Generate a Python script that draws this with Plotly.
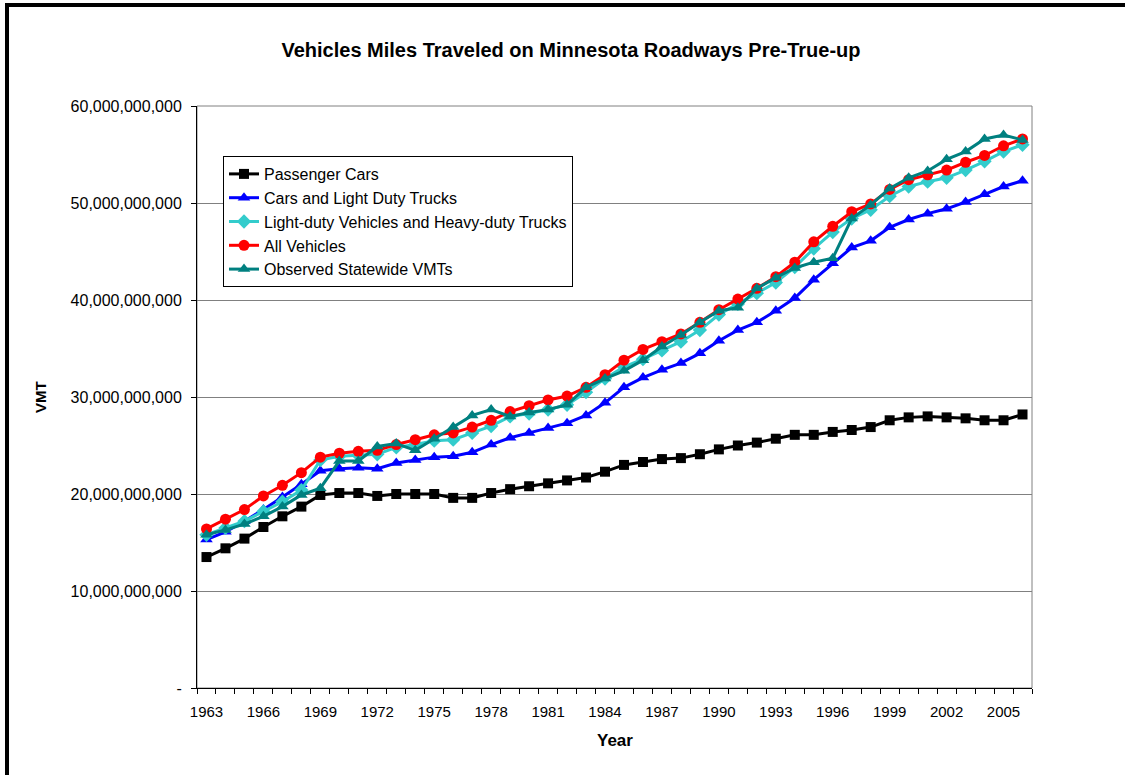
import plotly.graph_objects as go

# ── Data (VMT in billions) ───────────────────────────────────────────────────
YEARS = list(range(1963, 2007))

PASSENGER_CARS = [
    13.5, 14.4, 15.4, 16.6, 17.7, 18.7, 19.9, 20.1, 20.1, 19.8,
    20.0, 20.0, 20.0, 19.6, 19.6, 20.1, 20.5, 20.8, 21.1, 21.4,
    21.7, 22.3, 23.0, 23.3, 23.6, 23.7, 24.1, 24.6, 25.0, 25.3,
    25.7, 26.1, 26.1, 26.4, 26.6, 26.9, 27.6, 27.9, 28.0, 27.9,
    27.8, 27.6, 27.6, 28.2,
]
CARS_LDT = [
    15.3, 16.1, 17.2, 18.4, 19.7, 21.0, 22.4, 22.6, 22.7, 22.6,
    23.2, 23.5, 23.8, 23.9, 24.3, 25.1, 25.8, 26.3, 26.8, 27.3,
    28.1, 29.4, 31.0, 32.0, 32.8, 33.5, 34.5, 35.8, 36.9, 37.7,
    38.9, 40.2, 42.1, 43.8, 45.4, 46.1, 47.5, 48.3, 48.9, 49.4,
    50.1, 50.9, 51.7, 52.3,
]
LDV_HDT = [
    15.8, 16.5, 17.2, 18.2, 19.2, 20.4, 23.5, 23.9, 24.0, 24.1,
    24.8, 25.1, 25.5, 25.6, 26.3, 27.0, 28.0, 28.3, 28.7, 29.2,
    30.5, 31.9, 33.1, 33.9, 34.8, 35.7, 36.9, 38.5, 39.6, 40.7,
    41.8, 43.4, 45.3, 47.0, 48.4, 49.3, 50.7, 51.7, 52.2, 52.6,
    53.4, 54.3, 55.3, 56.0,
]
ALL_VEHICLES = [
    16.4, 17.4, 18.4, 19.8, 20.9, 22.2, 23.8, 24.2, 24.4, 24.5,
    25.1, 25.6, 26.1, 26.3, 26.9, 27.6, 28.5, 29.1, 29.7, 30.1,
    31.0, 32.3, 33.8, 34.9, 35.7, 36.5, 37.7, 39.0, 40.1, 41.2,
    42.4, 43.9, 46.0, 47.6, 49.1, 49.9, 51.4, 52.4, 52.9, 53.4,
    54.2, 54.9, 55.9, 56.6,
]
OBSERVED = [
    15.8, 16.3, 16.9, 17.7, 18.7, 19.9, 20.6, 23.4, 23.4, 24.9,
    25.2, 24.5, 25.7, 26.9, 28.1, 28.7, 28.0, 28.4, 28.7, 29.2,
    31.0, 31.9, 32.7, 33.8, 35.2, 36.4, 37.7, 38.9, 39.2, 41.2,
    42.3, 43.3, 43.9, 44.3, 48.4, 49.8, 51.5, 52.6, 53.3, 54.5,
    55.3, 56.6, 57.0, 56.5,
]

Y_TICKS = [0, 10, 20, 30, 40, 50, 60]
Y_LABELS = ["-", "10,000,000,000", "20,000,000,000", "30,000,000,000",
            "40,000,000,000", "50,000,000,000", "60,000,000,000"]

SERIES = [
    ("Passenger Cars", PASSENGER_CARS, "#000000", "square", 10),
    ("Cars and Light Duty Trucks", CARS_LDT, "#0000FF", "triangle-up", 11),
    ("Light-duty Vehicles and Heavy-duty Trucks", LDV_HDT, "#33CCCC", "diamond", 11),
    ("All Vehicles", ALL_VEHICLES, "#FF0000", "circle", 11),
    ("Observed Statewide VMTs", OBSERVED, "#008080", "triangle-up", 11),
]

FONT = "Arial, Liberation Sans, sans-serif"

# plot area in pixels: x 197..1032, y 106..688
L, R, T, B = 197, 1032, 106, 688
W, H = 1125, 775


def px_x(p):
    return (p - L) / (R - L)


def px_y(p):
    return (B - p) / (B - T)


fig = go.Figure()
for i, (name, vals, color, sym, size) in enumerate(SERIES):
    fig.add_trace(go.Scatter(
        x=YEARS, y=vals, name=name, mode="lines+markers",
        legendgroup=f"g{i}",
        line=dict(color=color, width=3),
        marker=dict(symbol=sym, size=size, color=color),
    ))

fig.update_layout(
    width=W, height=H,
    margin=dict(l=L, r=W - R, t=T, b=H - B),
    paper_bgcolor="white", plot_bgcolor="white",
    font=dict(family=FONT, size=15, color="black"),
    title=dict(
        text="<b>Vehicles Miles Traveled on Minnesota Roadways Pre-True-up</b>",
        x=571 / W, xref="container", xanchor="center",
        y=1 - 50 / H, yref="container", yanchor="middle",
        font=dict(size=20),
    ),
    showlegend=True,
    legend=dict(
        x=px_x(223), y=px_y(156), xanchor="left", yanchor="top",
        bgcolor="white", bordercolor="black", borderwidth=1,
        font=dict(size=16), tracegroupgap=0,
    ),
    xaxis=dict(
        range=[1962.5, 2006.5], tickmode="linear", tick0=1963, dtick=3,
        ticks="outside", ticklen=10, tickcolor="rgba(0,0,0,0)",
        showline=True, linecolor="black", linewidth=1,
        showgrid=False, zeroline=False,
        tickfont=dict(size=15),
        minor=dict(ticks="outside", ticklen=5, tickcolor="black",
                   tickmode="linear", tick0=1962.5, dtick=1, showgrid=False),
    ),
    yaxis=dict(
        range=[0, 60], tickmode="array", tickvals=Y_TICKS, ticktext=Y_LABELS,
        ticks="outside", ticklen=5, tickcolor="black", ticklabelstandoff=6,
        showline=True, linecolor="black", linewidth=1,
        showgrid=True, gridcolor="#808080", gridwidth=1, zeroline=False,
        tickfont=dict(size=16),
    ),
    annotations=[
        dict(text="<b>VMT</b>", textangle=-90, x=px_x(40), y=px_y(397),
             xref="paper", yref="paper", showarrow=False,
             font=dict(size=15), xanchor="center", yanchor="middle"),
        dict(text="<b>Year</b>", x=px_x(615), y=px_y(740),
             xref="paper", yref="paper", showarrow=False,
             font=dict(size=17), xanchor="center", yanchor="middle"),
    ],
    shapes=[
        # gray plot-area frame
        dict(type="rect", xref="paper", yref="paper", x0=0, x1=1, y0=0, y1=1,
             line=dict(color="#808080", width=1), layer="below"),
        # outer chart border (top and left visible)
        dict(type="line", xref="paper", yref="paper",
             x0=px_x(5), x1=px_x(W), y0=px_y(5), y1=px_y(5),
             line=dict(color="black", width=4)),
        dict(type="line", xref="paper", yref="paper",
             x0=px_x(7), x1=px_x(7), y0=px_y(H), y1=px_y(3),
             line=dict(color="black", width=4)),
    ],
)

# drop the browser's default body margin so the figure sits at the page origin
fig.write_html(
    "out.html",
    config={"displayModeBar": False},
    post_script="document.body.style.margin='0';",
)
